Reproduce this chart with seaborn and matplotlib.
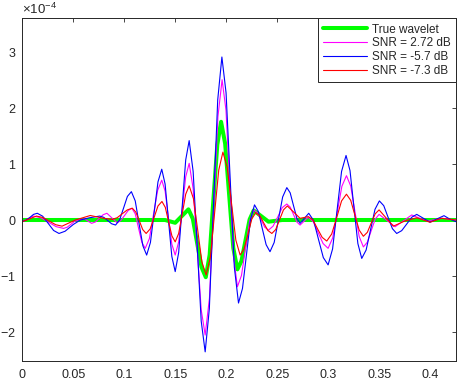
import matplotlib
matplotlib.use("Agg")
import matplotlib.pyplot as plt
import seaborn as sns
import numpy as np

# values, amplitudes in units of 1e-4
true_t = [0.000, 0.140, 0.150, 0.1565, 0.163, 0.1673, 0.1715, 0.1758, 0.180, 0.1838,
          0.1875, 0.1913, 0.195, 0.199, 0.203, 0.207, 0.211, 0.215, 0.219, 0.223,
          0.227, 0.2343, 0.2415, 0.255, 0.4255]
true_v = [0.00, 0.00, -0.05, 0.07, 0.19, 0.02, -0.41, -0.84, -1.02, -0.62,
          0.37, 1.34, 1.75, 1.36, 0.43, -0.50, -0.88, -0.73, -0.36, 0.01,
          0.17, 0.07, -0.03, 0.00, 0.00]

snr1_t = [0.000, 0.0055, 0.011, 0.0184, 0.0258, 0.0331, 0.0405, 0.0441, 0.0478, 0.0514,
          0.055, 0.061, 0.068, 0.0718, 0.0755, 0.0793, 0.083, 0.088, 0.093, 0.0966,
          0.1003, 0.1039, 0.1075, 0.1108, 0.1141, 0.1173, 0.1206, 0.1247, 0.1287, 0.1328,
          0.1368, 0.1401, 0.1434, 0.1467, 0.150, 0.1534, 0.1569, 0.1603, 0.1637, 0.1676,
          0.1716, 0.1755, 0.1794, 0.1836, 0.1877, 0.1919, 0.196, 0.1998, 0.2035, 0.2073,
          0.211, 0.215, 0.219, 0.223, 0.227, 0.2306, 0.2343, 0.2379, 0.2415, 0.246,
          0.2505, 0.255, 0.2595, 0.2628, 0.266, 0.2693, 0.2725, 0.2765, 0.2805, 0.2854,
          0.2903, 0.2951, 0.300, 0.3045, 0.309, 0.3135, 0.318, 0.3222, 0.3263, 0.3305,
          0.3346, 0.3385, 0.3423, 0.3462, 0.350, 0.3579, 0.3657, 0.3739, 0.382, 0.390,
          0.398, 0.405, 0.412, 0.4255]
snr1_v = [-0.03, 0.02, 0.07, 0.038, -0.04, -0.118, -0.15, -0.128, -0.075, -0.022,
          0.00, 0.02, -0.06, -0.034, 0.03, 0.094, 0.12, 0.035, -0.05, -0.01,
          0.08, 0.17, 0.21, 0.11, -0.15, -0.40, -0.505, -0.33, 0.10, 0.53,
          0.71, 0.515, 0.04, -0.43, -0.625, -0.39, 0.19, 0.77, 1.01, 0.56,
          -0.52, -1.60, -2.05, -1.39, 0.225, 1.84, 2.50, 1.96, 0.655, -0.65,
          -1.19, -0.99, -0.505, -0.02, 0.18, 0.13, 0.00, -0.13, -0.18, -0.11,
          0.05, 0.22, 0.285, 0.23, 0.10, -0.035, -0.09, -0.02, 0.05, -0.03,
          -0.23, -0.42, -0.505, -0.32, 0.14, 0.60, 0.79, 0.605, 0.155, -0.295,
          -0.48, -0.395, -0.19, 0.015, 0.10, -0.01, -0.12, -0.015, 0.09, 0.03,
          -0.02, 0.01, 0.03, 0.00]

snr2_t = [0.000, 0.0037, 0.0074, 0.011, 0.0147, 0.020, 0.0254, 0.0307, 0.036, 0.042,
          0.050, 0.057, 0.066, 0.076, 0.0799, 0.0838, 0.0876, 0.0915, 0.0954, 0.0993,
          0.1031, 0.107, 0.1108, 0.1145, 0.1183, 0.122, 0.1257, 0.1294, 0.1331, 0.1368,
          0.1401, 0.1434, 0.1467, 0.150, 0.1534, 0.1569, 0.1603, 0.1637, 0.1676, 0.1716,
          0.1755, 0.1794, 0.1835, 0.1876, 0.1917, 0.1958, 0.1999, 0.2040, 0.2080, 0.2121,
          0.2160, 0.2200, 0.2239, 0.2278, 0.2316, 0.2354, 0.2392, 0.243, 0.2471, 0.2513,
          0.2554, 0.2595, 0.2628, 0.2660, 0.2693, 0.2725, 0.2768, 0.281, 0.2858, 0.2905,
          0.2953, 0.300, 0.3044, 0.3088, 0.3132, 0.3176, 0.3215, 0.3253, 0.3292, 0.333,
          0.3373, 0.3417, 0.3460, 0.3503, 0.3546, 0.3588, 0.3631, 0.3673, 0.3722, 0.3772,
          0.3821, 0.387, 0.3935, 0.400, 0.4069, 0.4137, 0.419, 0.4255]
snr2_v = [-0.03, 0.00, 0.045, 0.10, 0.12, 0.067, -0.06, -0.187, -0.24, -0.20,
          -0.08, 0.00, 0.04, 0.07, 0.047, -0.01, -0.067, -0.09, 0.00, 0.21,
          0.42, 0.505, 0.34, -0.06, -0.46, -0.625, -0.40, 0.14, 0.68, 0.905,
          0.64, -0.01, -0.65, -0.92, -0.58, 0.25, 1.07, 1.415, 0.865, -0.47,
          -1.80, -2.35, -1.58, 0.28, 2.14, 2.905, 2.265, 0.71, -0.84, -1.48,
          -1.22, -0.605, 0.01, 0.27, 0.15, -0.15, -0.44, -0.565, -0.40, 0.01,
          0.41, 0.577, 0.484, 0.26, 0.033, -0.06, 0.03, 0.12, -0.01, -0.34,
          -0.67, -0.80, -0.515, 0.175, 0.865, 1.15, 0.88, 0.23, -0.42, -0.685,
          -0.535, -0.17, 0.19, 0.34, 0.255, 0.05, -0.155, -0.24, -0.19, -0.07,
          0.05, 0.10, 0.03, -0.04, 0.02, 0.077, 0.02, -0.03]

snr3_t = [0.000, 0.007, 0.014, 0.0203, 0.0265, 0.0328, 0.039, 0.0455, 0.052, 0.0594,
          0.0667, 0.0733, 0.080, 0.088, 0.093, 0.098, 0.103, 0.108, 0.1114, 0.1148,
          0.1181, 0.1215, 0.1254, 0.1293, 0.1331, 0.137, 0.1403, 0.1435, 0.1468, 0.150,
          0.1534, 0.1569, 0.1603, 0.1637, 0.1679, 0.1721, 0.1762, 0.1804, 0.1845, 0.1886,
          0.1927, 0.1968, 0.201, 0.2053, 0.2095, 0.2137, 0.2175, 0.2214, 0.2252, 0.229,
          0.233, 0.2369, 0.2409, 0.2448, 0.2486, 0.2524, 0.2562, 0.260, 0.2663, 0.2725,
          0.2807, 0.2852, 0.2897, 0.2942, 0.2987, 0.3035, 0.3084, 0.3132, 0.318, 0.3222,
          0.3263, 0.3305, 0.3346, 0.3385, 0.3423, 0.3462, 0.350, 0.357, 0.364, 0.375,
          0.387, 0.400, 0.411, 0.4255]
snr3_v = [-0.03, 0.02, 0.07, 0.044, -0.02, -0.084, -0.11, -0.055, 0.00, 0.04,
          0.08, 0.055, 0.03, 0.01, 0.04, 0.11, 0.18, 0.21, 0.14, -0.015,
          -0.17, -0.24, -0.16, 0.045, 0.25, 0.33, 0.225, -0.03, -0.285, -0.39,
          -0.24, 0.11, 0.46, 0.61, 0.38, -0.185, -0.75, -0.98, -0.66, 0.115,
          0.89, 1.21, 0.94, 0.29, -0.36, -0.625, -0.515, -0.25, 0.02, 0.13,
          0.076, -0.055, -0.186, -0.24, -0.17, 0.005, 0.18, 0.25, 0.14, 0.03,
          0.06, 0.00, -0.16, -0.31, -0.375, -0.25, 0.04, 0.34, 0.46, 0.35,
          0.085, -0.18, -0.29, -0.22, -0.055, 0.11, 0.18, 0.035, -0.11, -0.02,
          0.04, -0.04, 0.03, 0.00]

labels = ["True wavelet", "SNR = 2.72 dB", "SNR = -5.7 dB", "SNR = -7.3 dB"]
colors = ["#00ff00", "#ff00ff", "#0000ff", "#ff0000"]
widths = [2.9, 0.8, 0.8, 0.8]

sns.set_theme(style="white")
plt.rcParams["font.family"] = ["Liberation Sans", "DejaVu Sans"]
plt.rcParams["mathtext.fontset"] = "custom"
plt.rcParams["mathtext.rm"] = "Liberation Sans"
plt.rcParams["mathtext.it"] = "Liberation Sans:italic"

dark = "#262626"
fig = plt.figure(figsize=(4.58, 3.81), dpi=100)
ax = fig.add_axes([0.0487, 0.0525, 0.947, 0.8995])

series = [(true_t, true_v), (snr1_t, snr1_v), (snr2_t, snr2_v), (snr3_t, snr3_v)]
for (t, v), lab, c, w in zip(series, labels, colors, widths):
    sns.lineplot(x=t, y=np.array(v) * 1e-4, ax=ax, color=c, linewidth=w,
                 label=lab, estimator=None, sort=False)

ax.set_xlim(0, 0.4255)
ax.set_ylim(-2.513e-4, 3.595e-4)
ax.set_xticks(np.arange(0, 0.41, 0.05))
ax.set_xticklabels(["0", "0.05", "0.1", "0.15", "0.2", "0.25", "0.3", "0.35", "0.4"])
ax.set_yticks(np.array([-2, -1, 0, 1, 2, 3]) * 1e-4)
ax.ticklabel_format(axis="y", style="sci", scilimits=(0, 0), useMathText=True)
ax.yaxis.get_offset_text().set_fontsize(9.5)
ax.yaxis.get_offset_text().set_color(dark)

ax.tick_params(direction="in", top=True, right=True, length=3, width=0.6,
               labelsize=9, colors=dark, pad=4.5)
ax.tick_params(axis="x", pad=5.5)
for s in ax.spines.values():
    s.set_color(dark)
    s.set_linewidth(0.7)
ax.set_xlabel("")
ax.set_ylabel("")

leg = ax.legend(loc="upper right", borderaxespad=0, fontsize=8.5, handlelength=3.75,
                handletextpad=0.4, borderpad=0.45, labelspacing=0.15,
                fancybox=False, framealpha=1)
leg.get_frame().set_edgecolor(dark)
leg.get_frame().set_linewidth(0.7)

fig.savefig("out.png", dpi=100)
